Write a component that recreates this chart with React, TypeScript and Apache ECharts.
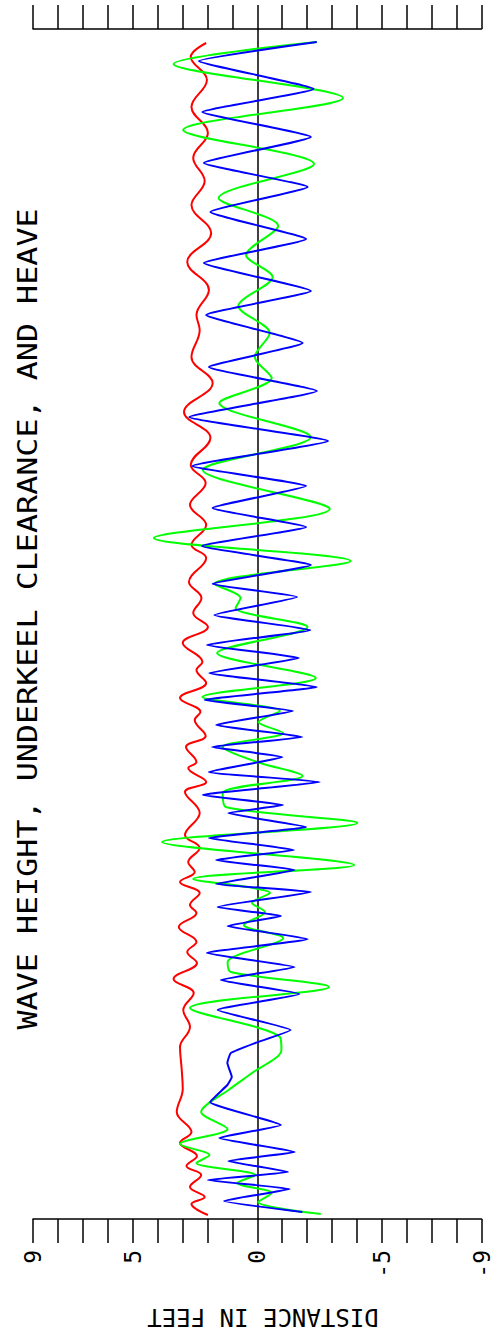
import React, { useEffect, useRef } from "react";
import * as echarts from "echarts";

// Time (s) and distance (ft), t ascending (bottom -> top)
const waveHeight: [number, number][] = [
  [0.7, -1.81], [1.8, 1.33], [3.0, -1.30], [3.9, 1.98], [4.7, -1.23], [5.8, 1.16],
  [6.7, -1.50], [8.1, 1.52], [9.4, -0.95], [11.7, 1.89], [13.4, 1.20], [14.2, 1.02],
  [15.6, 1.20], [16.6, 1.06], [17.6, 0.08], [18.9, -1.34], [20.9, 1.59], [22.5, -1.69],
  [23.9, 1.46], [25.2, -1.50], [26.6, 2.02], [28.0, -2.02], [29.3, 1.19], [30.3, -0.95],
  [31.2, 1.59], [32.7, -2.15], [33.5, 1.65], [34.9, -1.50], [35.9, 1.65], [36.9, -1.47],
  [38.1, 1.94], [39.2, -1.96], [40.6, 1.16], [41.4, -1.04], [42.4, 2.18], [43.7, -2.51],
  [44.7, 1.94], [46.2, -1.01], [47.2, 1.81], [48.2, -1.80], [49.4, 1.65], [50.8, -1.43],
  [51.9, 2.11], [53.2, -2.39], [54.6, 1.92], [56.1, -1.67], [57.4, 2.02], [58.9, -2.13],
  [60.4, 1.72], [62.2, -1.60], [63.5, 1.79], [65.4, -2.15], [67.3, 2.21], [69.2, -1.96],
  [71.1, 1.79], [73.3, -1.96], [75.3, 2.60], [77.8, -2.84], [80.2, 2.73], [82.8, -2.39],
  [85.2, 1.94], [87.6, -1.82], [90.4, 2.05], [92.8, -2.15], [95.6, 2.14], [98.0, -1.96],
  [100.7, 1.88], [103.2, -2.02], [105.6, 2.14], [108.2, -2.15], [110.7, 2.20], [113.0, -2.26],
  [115.8, 2.34], [117.7, -2.39],
];

const heave: [number, number][] = [
  [0.5, -2.55], [1.7, -0.04], [2.6, -0.58], [3.6, 0.80], [4.4, 0.08], [5.6, 2.44],
  [6.4, 1.92], [7.5, 3.10], [9.0, 1.19], [10.7, 2.25], [13.0, 1.10], [14.6, 0.21],
  [16.9, -0.97], [18.2, -0.91], [21.1, 2.70], [23.2, -2.88], [24.7, 1.06], [25.7, 1.19],
  [28.1, -1.04], [29.4, 0.54], [30.7, -0.31], [31.6, 0.21], [32.6, -0.51], [34.0, 2.57],
  [35.4, -3.89], [37.7, 3.82], [39.6, -4.02], [41.2, 1.26], [42.6, 1.39], [44.3, -1.82],
  [45.7, 0.01], [47.2, 1.39], [48.6, -1.04], [49.7, -0.05], [50.8, -0.91], [52.2, 2.20],
  [54.1, -2.35], [56.6, 1.61], [59.2, -2.02], [61.1, 0.87], [62.1, 0.67], [63.5, 1.72],
  [65.8, -3.75], [68.1, 4.15], [71.0, -2.91], [74.9, 2.18], [78.2, -2.15], [81.6, 1.52],
  [84.1, -0.58], [86.2, 0.10], [88.6, -0.50], [91.3, 0.76], [94.2, -0.62], [96.4, 0.45],
  [99.3, -0.84], [102.1, 1.55], [105.5, -2.28], [108.9, 2.97], [112.1, -3.44], [115.5, 3.36],
  [117.7, -2.39],
];

const underkeel: [number, number][] = [
  [0.4, 1.98], [1.5, 2.64], [2.2, 2.11], [3.2, 2.70], [4.4, 2.25], [5.3, 2.84],
  [6.3, 2.42], [7.6, 3.10], [8.7, 2.64], [10.7, 3.23], [13.0, 2.99], [14.9, 3.03],
  [17.2, 3.10], [19.2, 2.70], [20.9, 2.97], [22.6, 2.55], [24.0, 3.36], [25.6, 2.42],
  [26.7, 2.81], [27.7, 2.44], [29.2, 3.15], [30.6, 2.44], [31.4, 2.70], [32.6, 2.31],
  [33.7, 3.10], [34.7, 2.51], [35.7, 2.77], [37.1, 2.31], [38.4, 2.90], [40.6, 2.31],
  [42.7, 2.90], [43.7, 2.05], [45.1, 2.77], [45.7, 2.44], [47.2, 2.86], [48.3, 2.07],
  [49.9, 2.51], [50.7, 2.28], [52.1, 3.10], [53.6, 2.05], [54.9, 2.44], [55.7, 2.20],
  [57.6, 2.99], [59.2, 1.98], [60.6, 2.57], [62.1, 2.24], [63.7, 2.74], [66.1, 2.05],
  [67.4, 2.64], [69.4, 2.05], [71.4, 2.70], [73.6, 2.07], [75.4, 2.67], [78.1, 1.88],
  [80.7, 2.94], [83.6, 1.79], [86.2, 2.64], [88.9, 2.31], [90.4, 2.44], [92.9, 1.94],
  [95.7, 2.81], [98.6, 1.85], [101.4, 2.64], [103.8, 2.11], [106.1, 2.57], [108.6, 1.98],
  [111.2, 2.64], [113.9, 2.02], [116.2, 2.67], [117.6, 2.05],
];

const labeledTicks = [9, 5, 0, -5, -9];
const titleText = "WAVE HEIGHT, UNDERKEEL CLEARANCE, AND HEAVE";
const axisName = "DISTANCE IN FEET";

const FONT = "DejaVu Sans Mono";

export default function App() {
  const ref = useRef<HTMLDivElement>(null);
  useEffect(() => {
    if (!ref.current) return;
    const chart = echarts.init(ref.current, null, { renderer: "svg" });
    const toXY = (arr: [number, number][]) => arr.map(([t, v]) => [v, t]);
    const axisCommon = {
      type: "value" as const,
      min: -9,
      max: 9,
      interval: 1,
      inverse: true,
      splitLine: { show: false },
      axisLine: { show: true, onZero: false, lineStyle: { color: "#000", width: 1.5 } },
      axisTick: { show: true, inside: false, length: 24, lineStyle: { color: "#000", width: 1.5 } },
    };
    chart.setOption({
      animation: false,
      backgroundColor: "#fff",
      grid: { left: 33, right: 2, top: 29, bottom: 116 },
      xAxis: [
        {
          ...axisCommon,
          position: "bottom",
          axisLabel: {
            show: true,
            rotate: 90,
            margin: 31,
            fontSize: 23,
            fontFamily: FONT,
            color: "#000",
            formatter: (v: number) => {
              const r = Math.round(v);
              return labeledTicks.includes(r) ? String(r) : "";
            },
          },
        },
        {
          ...axisCommon,
          position: "top",
          axisLabel: { show: false },
        },
      ],
      yAxis: {
        type: "value",
        min: 0,
        max: 119,
        splitLine: { show: false },
        axisTick: { show: false },
        axisLabel: { show: false },
        axisLine: { show: true, onZero: true, lineStyle: { color: "#000", width: 1.5 } },
      },
      series: [
        {
          name: "Underkeel clearance",
          type: "line",
          data: toXY(underkeel),
          smooth: 0.4,
          showSymbol: false,
          symbol: "none",
          lineStyle: { color: "#ff0000", width: 2 },
        },
        {
          name: "Heave",
          type: "line",
          data: toXY(heave),
          smooth: 0.3,
          showSymbol: false,
          symbol: "none",
          lineStyle: { color: "#00ff00", width: 2 },
        },
        {
          name: "Wave height",
          type: "line",
          data: toXY(waveHeight),
          smooth: 0.12,
          showSymbol: false,
          symbol: "none",
          lineStyle: { color: "#0000ff", width: 2 },
        },
      ],
      graphic: [
        {
          type: "text",
          x: 28,
          y: 619,
          rotation: Math.PI / 2,
          scaleX: 1.22,
          style: {
            text: titleText,
            fontSize: 26,
            fontFamily: FONT,
            fill: "#000",
            align: "center",
            verticalAlign: "middle",
          },
        },
        {
          type: "text",
          x: 263,
          y: 1317,
          rotation: Math.PI,
          style: {
            text: axisName,
            fontSize: 24,
            fontFamily: FONT,
            fill: "#000",
            align: "center",
            verticalAlign: "middle",
          },
        },
      ],
    });
    return () => chart.dispose();
  }, []);
  return (
    <div
      ref={ref}
      style={{ position: "absolute", left: 0, top: 0, width: 493, height: 1335 }}
    />
  );
}
